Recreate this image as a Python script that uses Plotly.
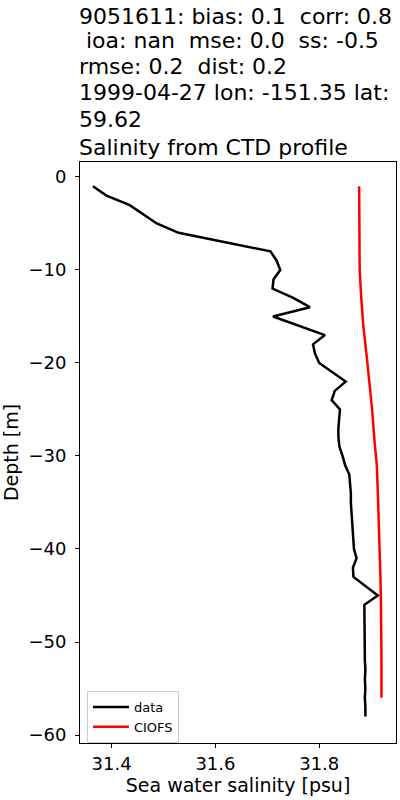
import plotly.graph_objects as go

# CTD cast (data)
data_depth = [-d for d in range(1, 59)]
data_sal = [31.364, 31.390, 31.434, 31.461, 31.487, 31.529, 31.621, 31.706, 31.718, 31.725,
            31.712, 31.710, 31.750, 31.782, 31.711, 31.761, 31.811, 31.788, 31.792, 31.800,
            31.826, 31.851, 31.830, 31.824, 31.840, 31.838, 31.837, 31.837, 31.839, 31.845,
            31.850, 31.858, 31.860, 31.861, 31.861, 31.862, 31.863, 31.864, 31.866, 31.867,
            31.872, 31.865, 31.866, 31.890, 31.913, 31.887, 31.887, 31.888, 31.887, 31.888,
            31.887, 31.888, 31.889, 31.888, 31.889, 31.888, 31.889, 31.889]

# CIOFS model profile
model_depth = [-1, -4, -7, -10, -13, -16, -19, -22, -25, -28, -31, -34, -37, -40, -43, -46, -49, -52, -56]
model_sal = [31.877, 31.877, 31.877, 31.878, 31.881, 31.885, 31.891, 31.897, 31.902, 31.906,
             31.911, 31.913, 31.915, 31.917, 31.918, 31.919, 31.920, 31.920, 31.920]

title_lines = [
    "9051611: bias: 0.1\u00a0\u00a0corr: 0.8",
    "\u00a0ioa: nan\u00a0\u00a0mse: 0.0\u00a0\u00a0ss: -0.5",
    "rmse: 0.2\u00a0\u00a0dist: 0.2",
    "1999-04-27 lon: -151.35 lat:",
    "59.62",
    "Salinity from CTD profile",
]
title_y_px = [16.5, 41, 67, 92, 119.5, 148]

top, bottom, left, right = 162, 743, 80, 396

font = "DejaVu Sans"
fig = go.Figure()
fig.add_trace(go.Scatter(x=data_sal, y=data_depth, mode="lines", name="data",
                         line=dict(color="black", width=2.5)))
fig.add_trace(go.Scatter(x=model_sal, y=model_depth, mode="lines", name="CIOFS",
                         line=dict(color="red", width=2.5)))

for txt, ypx in zip(title_lines, title_y_px):
    fig.add_annotation(text=txt, xref="paper", yref="paper", x=-3 / (right - left),
                       y=(bottom - ypx) / (bottom - top),
                       xanchor="left", yanchor="middle", showarrow=False,
                       font=dict(family=font, size=22, color="black"))

axis_common = dict(showgrid=False, zeroline=False, showline=True, linecolor="black", linewidth=1,
                   mirror=True, ticks="outside", ticklen=4, tickcolor="black", automargin=False,
                   tickfont=dict(family=font, size=18, color="black"))
fig.update_xaxes(range=[31.339, 31.948], tickvals=[31.4, 31.6, 31.8], ticktext=["31.4", "31.6", "31.8"],
                 title=dict(text="Sea water salinity [psu]", font=dict(family=font, size=19, color="black"),
                            standoff=6), **axis_common)
fig.update_yaxes(range=[-60.86, 1.61], tickvals=[0, -10, -20, -30, -40, -50, -60],
                 ticktext=["0", "\u221210", "\u221220", "\u221230", "\u221240", "\u221250", "\u221260"],
                 ticklabelstandoff=5,
                 title=dict(text="Depth [m]", font=dict(family=font, size=19, color="black"), standoff=14),
                 **axis_common)

fig.update_layout(
    width=400, height=800,
    margin=dict(l=left, r=400 - right, t=top, b=800 - bottom),
    plot_bgcolor="white", paper_bgcolor="white",
    legend=dict(x=0.022, y=0.0, xanchor="left", yanchor="bottom", itemwidth=36,
                bgcolor="rgba(255,255,255,0.8)", bordercolor="#cccccc", borderwidth=1,
                font=dict(family=font, size=13, color="black"), tracegroupgap=0),
    showlegend=True,
)
fig.write_html("out.html", config={"displayModeBar": False},
               post_script="document.body.style.margin = '0';")
